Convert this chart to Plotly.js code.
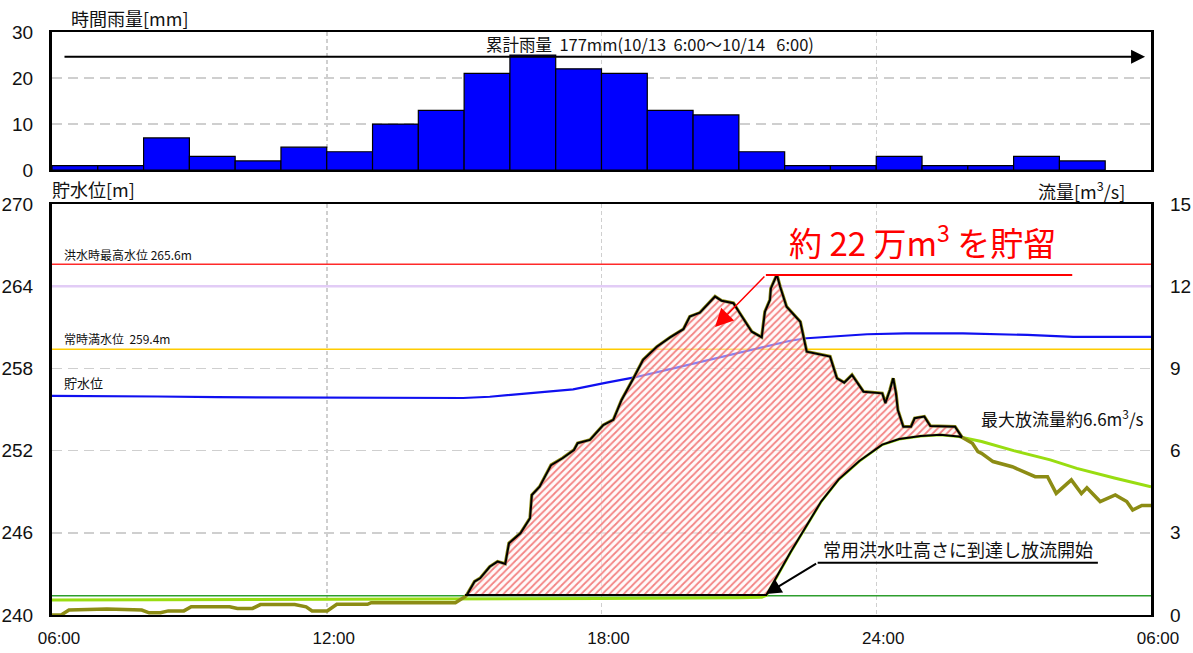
<!DOCTYPE html>
<html><head><meta charset="utf-8">
<script src="https://cdn.plot.ly/plotly-3.0.1.min.js"></script>
<style>html,body{margin:0;padding:0;background:#fff}#chart{width:1193px;height:653px}</style>
</head><body><div id="chart"></div>
<script>
// ---- time axis ----
const xTickVals = [6, 12, 18, 24, 30];
const xTickText = ['06:00', '12:00', '18:00', '24:00', '06:00'];

// ---- hourly rainfall (mm), bar starting hour ----
const rainStartHour = [6,7,8,9,10,11,12,13,14,15,16,17,18,19,20,21,22,23,24,25,26,27,28];
const rainMm        = [1,1,7,3,2,5,4,10,13,21,25,22,21,13,12,4,1,1,3,1,1,3,2];
const rainTotalText = '累計雨量  177mm(10/13  6:00～10/14   6:00)';

// ---- inflow (m3/s) ----
const inflowT = [6.0,6.2,6.37,7.2,7.96,8.12,8.37,8.54,8.88,9.04,9.88,10.05,10.38,10.55,11.3,11.55,11.68,12.01,12.22,12.89,12.97,14.81,15.02,
  15.06,15.23,15.35,15.56,15.73,15.9,15.98,16.23,16.44,16.48,16.65,16.9,17.15,17.4,17.48,17.75,18.04,18.26,18.44,18.7,18.91,19.21,19.5,19.79,19.93,
  20.15,20.3,20.48,20.62,20.88,21.02,21.28,21.5,21.53,21.57,21.68,21.7,21.83,21.9,22.04,22.34,22.48,22.99,23.14,23.3,23.47,23.72,24.13,24.2,24.3,
  24.37,24.43,24.47,24.59,24.76,24.84,25.05,25.18,25.72,25.87,26.1,26.22,26.3,26.55,26.97,27.47,27.74,27.93,28.26,28.48,28.6,28.89,29.22,29.47,29.6,29.8,30.0];
const inflowQ = [0.0,0.0,0.18,0.22,0.18,0.08,0.08,0.15,0.15,0.3,0.3,0.24,0.24,0.38,0.38,0.3,0.15,0.15,0.39,0.39,0.45,0.45,0.67,
  0.73,1.22,1.34,1.76,1.95,1.86,2.62,2.98,3.53,4.38,4.68,5.47,5.72,6.02,6.27,6.39,6.93,7.12,7.85,8.64,9.31,9.79,10.13,10.43,10.89,
  11.03,11.31,11.62,11.47,11.38,11.01,10.34,10.13,10.52,11.07,11.5,11.92,12.41,11.98,11.25,10.7,9.61,9.43,8.64,8.48,8.76,8.15,8.09,7.73,8.21,
  8.64,8.09,7.48,6.87,6.87,7.18,7.24,6.9,6.87,6.49,6.27,5.96,5.9,5.6,5.41,5.05,5.05,4.44,4.93,4.43,4.64,4.14,4.38,4.14,3.83,4.0,4.0];

// ---- outflow (m3/s) ----
const outflowT = [6.0,9.0,12.0,15.0,18.0,21.0,21.5,21.6,22.13,22.8,23.18,23.63,24.13,24.5,24.97,25.4,25.8,26.3,27.0,27.8,28.38,29.2,30.0];
const outflowQ = [0.55,0.56,0.57,0.58,0.6,0.63,0.65,0.72,2.3,4.15,4.95,5.62,6.22,6.42,6.53,6.58,6.51,6.33,6.0,5.66,5.35,5.0,4.68];

// ---- reservoir water level (m) ----
const levelT = [6.0,7.5,8.3,9.6,12.0,13.5,14.98,15.56,16.29,17.38,18.11,18.69,19.57,20.52,21.39,22.12,22.48,22.97,23.8,24.64,25.89,27.3,28.3,30.0];
const levelM = [256.0,256.0,255.95,255.9,255.86,255.85,255.84,255.93,256.13,256.47,256.96,257.32,258.0,258.74,259.47,260.02,260.2,260.3,260.49,260.56,260.56,260.44,260.3,260.3];

// ---- reference levels ----
const floodMaxLevel = 265.6;
const surchargeLevel = 264.0;
const normalFullLevel = 259.4;
const spillwayFlow = 0.7;

// ---- storage period ----
const storageStart = 15.02;
const storageEnd = 25.87;
const storageBaseQ = 0.73;

const FONT_JP = '"Noto Sans CJK JP", "Noto Sans", sans-serif';
const FONT_NUM = '"Liberation Sans Narrow", "Liberation Sans", Arial, sans-serif';

function interp(ts, vs, t) {
  for (let i = 0; i < ts.length - 1; i++) {
    if (t >= ts[i] && t <= ts[i + 1]) {
      const f = (t - ts[i]) / (ts[i + 1] - ts[i]);
      return vs[i] + f * (vs[i + 1] - vs[i]);
    }
  }
  return vs[vs.length - 1];
}

// hatch polygon: inflow top, outflow/base bottom
const polyX = [], polyY = [];
polyX.push(storageStart); polyY.push(storageBaseQ);
inflowT.forEach((t, i) => { if (t > storageStart && t < storageEnd) { polyX.push(t); polyY.push(inflowQ[i]); } });
polyX.push(storageEnd); polyY.push(interp(inflowT, inflowQ, storageEnd));
const endOut = interp(outflowT, outflowQ, storageEnd);
polyX.push(storageEnd); polyY.push(endOut);
for (let i = outflowT.length - 1; i >= 0; i--) {
  const t = outflowT[i];
  if (t > storageStart && t < storageEnd) { polyX.push(t); polyY.push(Math.max(outflowQ[i], storageBaseQ)); }
}
polyX.push(storageStart); polyY.push(storageBaseQ);

const flat = (v) => [v, v];
const fullX = [xTickVals[0], xTickVals[xTickVals.length - 1]];

const traces = [
  { type: 'bar', x: rainStartHour, y: rainMm, width: 1, offset: 0, xaxis: 'x2', yaxis: 'y',
    marker: { color: '#0000FF', line: { color: '#000000', width: 1.2 } }, hoverinfo: 'skip' },
  { type: 'scatter', mode: 'lines', x: fullX, y: flat(floodMaxLevel), xaxis: 'x', yaxis: 'y2', line: { color: '#FF2A2A', width: 1.5 } },
  { type: 'scatter', mode: 'lines', x: fullX, y: flat(surchargeLevel), xaxis: 'x', yaxis: 'y2', line: { color: '#E2CCF6', width: 2.5 } },
  { type: 'scatter', mode: 'lines', x: fullX, y: flat(normalFullLevel), xaxis: 'x', yaxis: 'y2', line: { color: '#FFCC00', width: 1.5 } },
  { type: 'scatter', mode: 'lines', x: fullX, y: flat(spillwayFlow), xaxis: 'x', yaxis: 'y3', line: { color: '#2E9E2E', width: 1.5 } },
  { type: 'scatter', mode: 'lines', x: levelT, y: levelM, xaxis: 'x', yaxis: 'y2', line: { color: '#1010F0', width: 2.2 } },
  { type: 'scatter', mode: 'lines', x: outflowT, y: outflowQ, xaxis: 'x', yaxis: 'y3', line: { color: '#99DD11', width: 3 } },
  { type: 'scatter', mode: 'lines', x: inflowT, y: inflowQ, xaxis: 'x', yaxis: 'y3', line: { color: '#8C8C14', width: 3.5 } },
  { type: 'scatter', mode: 'lines', x: polyX, y: polyY, xaxis: 'x', yaxis: 'y3', fill: 'toself',
    fillcolor: 'rgba(255,255,255,0.45)',
    fillpattern: { shape: '/', fgcolor: 'rgba(240,100,100,0.8)', bgcolor: 'rgba(255,245,245,0.5)', size: 5, solidity: 0.35 },
    line: { color: '#000000', width: 2 } }
];

const gridCol = '#CFCFCF';
const layout = {
  width: 1193, height: 653,
  margin: { l: 52, r: 42, t: 32, b: 38 },
  paper_bgcolor: '#FFFFFF', plot_bgcolor: '#FFFFFF',
  showlegend: false,
  font: { family: FONT_NUM, size: 17, color: '#111' },
  xaxis: {
    domain: [0, 1], anchor: 'y2', range: [6, 30],
    tickmode: 'array', tickvals: xTickVals, ticktext: xTickText,
    ticks: '', ticklabelstandoff: 7, ticklabelshift: 7,
    showgrid: true, gridcolor: gridCol, griddash: '4px,3px', gridwidth: 1.5,
    showline: true, linecolor: '#000', linewidth: 2, mirror: true, zeroline: false,
    tickfont: { family: FONT_NUM, size: 17 }
  },
  xaxis2: {
    domain: [0, 1], anchor: 'y', matches: 'x', range: [6, 30],
    tickmode: 'array', tickvals: xTickVals, showticklabels: false, ticks: '',
    showgrid: true, gridcolor: gridCol, griddash: '4px,3px', gridwidth: 1.5,
    showline: true, linecolor: '#000', linewidth: 2, mirror: true, zeroline: false
  },
  yaxis: {
    domain: [0.763, 1], anchor: 'x2', range: [0, 30],
    tickmode: 'array', tickvals: [0, 10, 20, 30], ticks: '', ticklabelstandoff: 12,
    showgrid: true, gridcolor: gridCol, griddash: '10px,6px', gridwidth: 1.5,
    showline: true, linecolor: '#000', linewidth: 3, mirror: true, zeroline: false,
    tickfont: { family: FONT_NUM, size: 19 }
  },
  yaxis2: {
    domain: [0, 0.705], anchor: 'x', range: [240, 270],
    tickmode: 'array', tickvals: [240, 246, 252, 258, 264, 270], ticks: '', ticklabelstandoff: 12,
    showgrid: true, gridcolor: gridCol, griddash: '10px,6px', gridwidth: 1.5,
    showline: true, linecolor: '#000', linewidth: 3, mirror: true, zeroline: false,
    tickfont: { family: FONT_NUM, size: 19 }
  },
  yaxis3: {
    overlaying: 'y2', side: 'right', anchor: 'x', range: [0, 15],
    tickmode: 'array', tickvals: [0, 3, 6, 9, 12, 15], ticks: '', ticklabelstandoff: 18,
    showgrid: false, showline: false, zeroline: false,
    tickfont: { family: FONT_NUM, size: 19 }
  },
  shapes: [
    { type: 'line', xref: 'x', yref: 'y3', x0: 21.59, x1: 28.28, y0: 12.41, y1: 12.41, line: { color: '#FF0000', width: 2 } },
    { type: 'line', xref: 'x', yref: 'y3', x0: 22.72, x1: 28.84, y0: 1.91, y1: 1.91, line: { color: '#000000', width: 2 } }
  ],
  annotations: [
    { xref: 'paper', yref: 'paper', x: 0.0155, y: 1.024, xanchor: 'left', yanchor: 'middle', showarrow: false,
      text: '時間雨量[mm]', font: { family: FONT_JP, size: 18, color: '#111' } },
    { xref: 'paper', yref: 'paper', x: -0.002, y: 0.731, xanchor: 'left', yanchor: 'middle', showarrow: false,
      text: '貯水位[m]', font: { family: FONT_JP, size: 18, color: '#111' } },
    { xref: 'paper', yref: 'paper', x: 0.978, y: 0.729, xanchor: 'right', yanchor: 'middle', showarrow: false,
      text: '流量[m<sup>3</sup>/s]', font: { family: FONT_JP, size: 18, color: '#111' } },
    // cumulative rainfall arrow
    { xref: 'x2', yref: 'y', x: 29.87, y: 24.6, axref: 'x2', ayref: 'y', ax: 6.24, ay: 24.6,
      showarrow: true, arrowhead: 2, arrowsize: 1.4, arrowwidth: 2, arrowcolor: '#000', text: '' },
    { xref: 'x2', yref: 'y', x: 19.06, y: 27.4, xanchor: 'center', yanchor: 'middle', showarrow: false,
      text: rainTotalText, font: { family: FONT_JP, size: 16.5, color: '#111' } },
    // level labels
    { xref: 'x', yref: 'y2', x: 6.22, y: 266.3, xanchor: 'left', yanchor: 'middle', showarrow: false,
      text: '洪水時最高水位 265.6m', font: { family: FONT_JP, size: 12, color: '#111' } },
    { xref: 'x', yref: 'y2', x: 6.22, y: 260.15, xanchor: 'left', yanchor: 'middle', showarrow: false,
      text: '常時満水位  259.4m', font: { family: FONT_JP, size: 12, color: '#111' } },
    { xref: 'x', yref: 'y2', x: 6.22, y: 256.95, xanchor: 'left', yanchor: 'middle', showarrow: false,
      text: '貯水位', font: { family: FONT_JP, size: 13, color: '#111' } },
    // storage callout
    { xref: 'x', yref: 'y3', x: 25.0, y: 13.65, xanchor: 'center', yanchor: 'middle', showarrow: false,
      text: '約 22 万m<sup>3</sup> を貯留', font: { family: FONT_JP, size: 33, color: '#FF0000' } },
    { xref: 'x', yref: 'y3', x: 20.48, y: 10.51, axref: 'x', ayref: 'y3', ax: 21.59, ay: 12.41,
      showarrow: true, arrowhead: 2, arrowsize: 2.4, arrowwidth: 1.5, arrowcolor: '#FF0000', text: '' },
    // spillway callout
    { xref: 'x', yref: 'y3', x: 25.79, y: 2.4, xanchor: 'center', yanchor: 'middle', showarrow: false,
      text: '常用洪水吐高さに到達し放流開始', font: { family: FONT_JP, size: 18, color: '#111' } },
    { xref: 'x', yref: 'y3', x: 21.6, y: 0.77, axref: 'x', ayref: 'y3', ax: 22.72, ay: 1.91,
      showarrow: true, arrowhead: 2, arrowsize: 1.5, arrowwidth: 2, arrowcolor: '#000', text: '' },
    // max outflow
    { xref: 'x', yref: 'y3', x: 29.89, y: 7.19, xanchor: 'right', yanchor: 'middle', showarrow: false,
      text: '最大放流量約6.6m<sup>3</sup>/s', font: { family: FONT_JP, size: 17, color: '#111' } }
  ]
};

Plotly.newPlot('chart', traces, layout, { staticPlot: true, displayModeBar: false });
</script>
</body></html>
